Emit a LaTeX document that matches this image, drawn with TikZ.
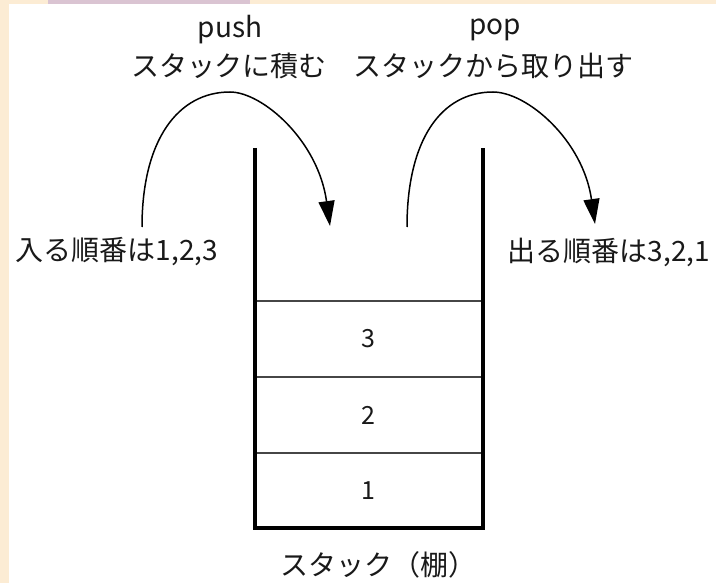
\documentclass[tikz,border=0pt]{standalone}
\usepackage{fontspec}
\setmainfont{Noto Sans CJK JP}
\usetikzlibrary{arrows.meta}
\definecolor{pagebeige}{RGB}{252,236,212}
\definecolor{barlav}{RGB}{218,196,210}
\definecolor{cellline}{RGB}{70,70,70}
\begin{document}
\begin{tikzpicture}[x=1pt,y=-1pt,
  txt/.style={font=\fontsize{28}{32}\selectfont, inner sep=0pt, text=black!90},
  num/.style={font=\fontsize{25}{30}\selectfont, inner sep=0pt, text=black!90},
  wall/.style={line width=4.5pt, line join=miter, black},
  divider/.style={line width=2pt, cellline},
  curvearrow/.style={line width=1.5pt, black, -{Triangle[length=25pt,width=16pt]}}]
\fill[pagebeige] (0,0) rectangle (716,583);
\fill[white] (9,4) rectangle (716,583);
\fill[barlav] (48,0) rectangle (250,4);
\useasboundingbox (0,0) rectangle (716,583);
% stack
\coordinate (lt) at (255,148);
\coordinate (lb) at (255,528);
\coordinate (rb) at (483,528);
\coordinate (rt) at (483,148);
\coordinate (d1l) at (255,301); \coordinate (d1r) at (483,301);
\coordinate (d2l) at (255,377); \coordinate (d2r) at (483,377);
\coordinate (d3l) at (255,453); \coordinate (d3r) at (483,453);
\draw[divider] (d1l) -- (d1r);
\draw[divider] (d2l) -- (d2r);
\draw[divider] (d3l) -- (d3r);
\draw[wall] (lt) -- (lb) -- (rb) -- (rt);
\node[num] (c3) at (368,339) {3};
\node[num] (c2) at (368,415) {2};
\node[num] (c1) at (368,491) {1};
% labels
\node[txt] (pushlbl) at (230,30) {push};
\node[txt] (pushjp) at (229,66) {スタックに積む};
\node[txt] (poplbl) at (495,30) {pop};
\node[txt] (popjp) at (493,66) {スタックから取り出す};
\node[txt] (inlbl) at (117,252) {入る順番は1,2,3};
\node[txt] (outlbl) at (609,252) {出る順番は3,2,1};
\node[txt] (stacklbl) at (378,565) {スタック（棚）};
% arrows
\coordinate (pushS) at (142,227);
\coordinate (pushE) at (330,226);
\coordinate (popS) at (407,227);
\coordinate (popE) at (595,224);
\draw[curvearrow] (pushS) .. controls (142,140) and (178,92) .. (230,92)
  .. controls (262,92) and (318,140) .. (pushE);
\draw[curvearrow] (popS) .. controls (407,140) and (441,92) .. (493,92)
  .. controls (527,92) and (583,140) .. (popE);
\end{tikzpicture}
\end{document}
